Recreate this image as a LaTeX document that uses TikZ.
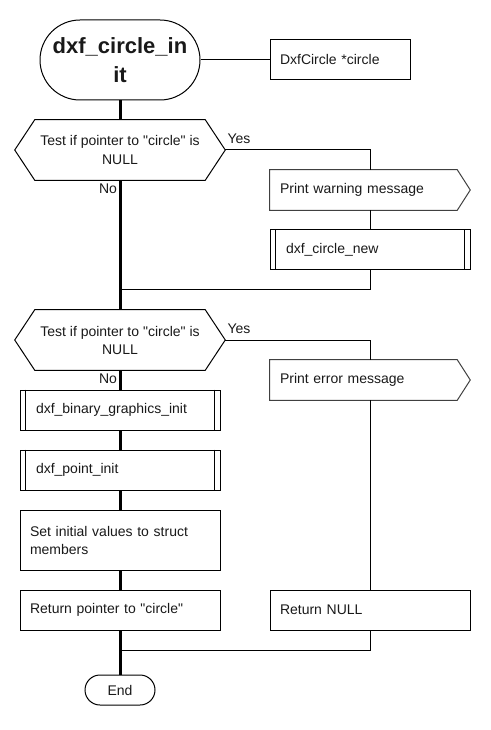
\documentclass[tikz,border=0pt]{standalone}
\usepackage{fontspec}
\setmainfont{Liberation Sans}
\usetikzlibrary{calc}
\begin{document}
\begin{tikzpicture}[x=0.75pt,y=-0.75pt,
  txt/.style={font=\fontsize{10.5pt}{13.5pt}\selectfont, text=black!90},
  box/.style={txt, rectangle, draw=black, line width=0.75pt, minimum width=150pt, minimum height=30pt, inner sep=0pt, inner xsep=7.5pt, text width=135pt, align=left},
  subbox/.style={box, inner xsep=12pt, text width=126pt},
  sigbox/.style={txt, rectangle, draw=none, minimum width=150pt, minimum height=30pt, inner sep=0pt, inner xsep=7.5pt, text width=135pt, align=left},
  decbox/.style={txt, rectangle, draw=none, minimum width=157.5pt, minimum height=45pt, inner sep=0pt, align=center},
  term/.style={txt, rectangle, draw=black, line width=0.75pt, inner sep=0pt, align=center},
  thick line/.style={line width=2.25pt, black},
  thin line/.style={line width=0.75pt, black},
  lbl/.style={txt, inner sep=0pt}
]
\useasboundingbox (0,0) rectangle (490,730);

% nodes
\node[term, minimum width=120pt, minimum height=60pt, rounded corners=30pt,
      font=\fontsize{16.5pt}{21.75pt}\selectfont\bfseries] (start) at (120,60) {dxf\_circle\_in\\it};
\node[box, minimum width=105pt, text width=90pt] (param) at (340,60) {DxfCircle *circle};

\node[decbox] (d1) at (120,150) {Test if pointer to \textquotedbl circle\textquotedbl{} is\\NULL};
\node[sigbox] (warn) at (370,190) {Print warning message};
\node[subbox] (new) at (370,250) {dxf\_circle\_new};

\node[decbox] (d2) at (120,340) {Test if pointer to \textquotedbl circle\textquotedbl{} is\\NULL};
\node[sigbox] (err) at (370,380) {Print error message};
\node[subbox] (bin) at (120,410) {dxf\_binary\_graphics\_init};
\node[subbox] (pt) at (120,470) {dxf\_point\_init};
\node[box, minimum height=45pt] (set) at (120,540) {Set initial values to struct members};
\node[box] (ret) at (120,610) {Return pointer to \textquotedbl circle\textquotedbl};
\node[box] (retnull) at (370,610) {Return NULL};
\node[term, minimum width=52.5pt, minimum height=22.5pt, rounded corners=11.25pt] (end) at (120,690) {End};

% decision outlines
\foreach \d in {d1,d2}{
  \draw[thin line] (\d.west) -- ($(\d.north west)+(20,0)$) -- ($(\d.north east)+(-20,0)$)
    -- (\d.east) -- ($(\d.south east)+(-20,0)$) -- ($(\d.south west)+(20,0)$) -- cycle;
}
% signal outlines
\foreach \s in {warn,err}{
  \draw[line width=0.75pt, black!75] (\s.north west) -- ($(\s.north east)+(-13,0)$) -- (\s.east)
    -- ($(\s.south east)+(-13,0)$) -- (\s.south west) -- cycle;
}
% subroutine inner lines
\foreach \s in {new,bin,pt}{
  \draw[thin line] ($(\s.north west)+(6,0)$) -- ($(\s.south west)+(6,0)$);
  \draw[thin line] ($(\s.north east)+(-6,0)$) -- ($(\s.south east)+(-6,0)$);
}

% merge coordinates
\coordinate (m1) at (120,290);
\coordinate (m2) at (120,650);

% thick main line
\draw[thick line] (start.south) -- (d1.north);
\draw[thick line] (d1.south) -- (d2.north);
\draw[thick line] (d2.south) -- (bin.north);
\draw[thick line] (bin.south) -- (pt.north);
\draw[thick line] (pt.south) -- (set.north);
\draw[thick line] (set.south) -- (ret.north);
\draw[thick line] (ret.south) -- (end.north);

% thin connectors
\draw[thin line] (start.east) -- (param.west);
\draw[thin line] (d1.east) -| (warn.north);
\draw[thin line] (warn.south) -- (new.north);
\draw[thin line] (new.south) |- (m1);
\draw[thin line] (d2.east) -| (err.north);
\draw[thin line] (err.south) -- (retnull.north);
\draw[thin line] (retnull.south) |- (m2);

% labels
\node[lbl] (y1) at (239,139) {Yes};
\node[lbl] (n1) at (108,189) {No};
\node[lbl] (y2) at (239,329) {Yes};
\node[lbl] (n2) at (108,379) {No};
\end{tikzpicture}
\end{document}
